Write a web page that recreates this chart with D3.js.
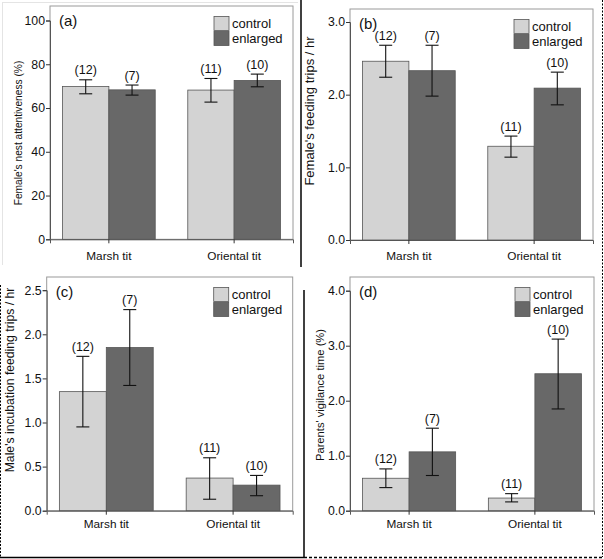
<!DOCTYPE html>
<html>
<head>
<meta charset="utf-8">
<script src="https://cdn.jsdelivr.net/npm/d3@7"></script>
<style>
html,body{margin:0;padding:0;background:#fff;}
svg{display:block;font-family:"Liberation Sans",Arial,sans-serif;}
</style>
</head>
<body>
<svg id="chart" width="604" height="559"></svg>
<script>
// ---------- data ----------
const groups = ["Marsh tit", "Oriental tit"];
const series = ["control", "enlarged"];
const panelLetters = ["(a)", "(b)", "(c)", "(d)"];
const yTitles = [
  "Female's nest attentiveness (%)",
  "Female's feeding trips / hr",
  "Male's incubation feeding trips / hr",
  "Parents' vigilance time (%)"
];
// sample sizes [group][series]
const sampleSizes = [[12, 7], [11, 10]];

// panel (a)
const ticksA = [0, 20, 40, 60, 80, 100];
const meanA = [[69.8, 68.3], [68.2, 72.6]];
const lowA  = [[66.5, 65.9], [62.7, 69.7]];
const highA = [[72.9, 70.5], [73.5, 75.5]];
// panel (b)
const ticksB = [0, 1, 2, 3];
const meanB = [[2.46, 2.33], [1.29, 2.09]];
const lowB  = [[2.24, 1.98], [1.14, 1.86]];
const highB = [[2.68, 2.68], [1.43, 2.31]];
// panel (c)
const ticksC = [0, 0.5, 1, 1.5, 2, 2.5];
const meanC = [[1.35, 1.85], [0.37, 0.29]];
const lowC  = [[0.95, 1.42], [0.13, 0.17]];
const highC = [[1.75, 2.28], [0.60, 0.40]];
// panel (d)
const ticksD = [0, 1, 2, 3, 4];
const meanD = [[0.59, 1.07], [0.23, 2.49]];
const lowD  = [[0.42, 0.64], [0.16, 1.85]];
const highD = [[0.76, 1.50], [0.31, 3.12]];

// ---------- layout ----------
const colors = {control: "#d3d3d3", enlarged: "#686868"};
const panels = [
  {ticks: ticksA, mean: meanA, low: lowA, high: highA, fmt: d3.format("d"),
   left: 50, top: 6, right: 293, bottom: 239.3, tickTopY: 20.5,
   titleX: 18, titleY: 133, titleSize: 10.2, catDy: 20.5},
  {ticks: ticksB, mean: meanB, low: lowB, high: highB, fmt: d3.format(".1f"),
   left: 350, top: 9, right: 593, bottom: 240, tickTopY: 22,
   titleX: 309.5, titleY: 111, titleSize: 13, catDy: 20},
  {ticks: ticksC, mean: meanC, low: lowC, high: highC, fmt: d3.format(".1f"),
   left: 46.7, top: 277, right: 292.7, bottom: 510.7, tickTopY: 290.2,
   titleX: 10, titleY: 380, titleSize: 12.2, catDy: 17.6},
  {ticks: ticksD, mean: meanD, low: lowD, high: highD, fmt: d3.format(".1f"),
   left: 350, top: 277, right: 594, bottom: 510.7, tickTopY: 290.7,
   titleX: 319.5, titleY: 395, titleSize: 11.2, catDy: 17.6}
];

const svg = d3.select("#chart");
svg.append("rect").attr("width", 604).attr("height", 559).attr("fill", "#fff");

// decorative panel borders (as in the source image)
const borders = svg.append("g").attr("fill", "none");
borders.append("line").attr("x1", 2).attr("y1", 2.5).attr("x2", 298).attr("y2", 2.5).attr("stroke", "#e4e4e4");
borders.append("line").attr("x1", 2.5).attr("y1", 2).attr("x2", 2.5).attr("y2", 265).attr("stroke", "#e4e4e4");
borders.append("line").attr("x1", 301).attr("y1", 0).attr("x2", 301).attr("y2", 267).attr("stroke", "#000").attr("stroke-width", 1.5);
borders.append("line").attr("x1", 602.5).attr("y1", 0).attr("x2", 602.5).attr("y2", 290).attr("stroke", "#000").attr("stroke-dasharray", "2,1.5");
borders.append("line").attr("x1", 0.5).attr("y1", 285).attr("x2", 0.5).attr("y2", 557).attr("stroke", "#000").attr("stroke-dasharray", "2,1.5");
borders.append("line").attr("x1", 304).attr("y1", 290).attr("x2", 304).attr("y2", 557).attr("stroke", "#000").attr("stroke-width", 1.5);
borders.append("line").attr("x1", 602.5).attr("y1", 290).attr("x2", 602.5).attr("y2", 557).attr("stroke", "#000").attr("stroke-dasharray", "2,1.5");
borders.append("line").attr("x1", 0).attr("y1", 557.5).attr("x2", 304).attr("y2", 557.5).attr("stroke", "#000").attr("stroke-width", 1.5);
borders.append("line").attr("x1", 304).attr("y1", 557.5).attr("x2", 604).attr("y2", 557.5).attr("stroke", "#000").attr("stroke-width", 1.5).attr("stroke-dasharray", "3,2");

panels.forEach((p, i) => {
  const g = svg.append("g");
  const tickMax = p.ticks[p.ticks.length - 1];
  const y = d3.scaleLinear().domain([0, tickMax]).range([p.bottom, p.tickTopY]);
  const x0 = d3.scaleBand().domain(groups).range([p.left, p.right]).paddingInner(0.26).paddingOuter(0.1);
  const x1 = d3.scaleBand().domain(series).range([0, x0.bandwidth()]).padding(0);

  // frame
  g.append("rect").attr("x", p.left).attr("y", p.top)
    .attr("width", p.right - p.left).attr("height", p.bottom - p.top)
    .attr("fill", "#fff").attr("stroke", "#9a9a9a").attr("stroke-width", 1);

  // bars
  groups.forEach((grp, gi) => {
    series.forEach((s, si) => {
      const bx = x0(grp) + x1(s);
      const v = p.mean[gi][si];
      g.append("rect").attr("x", bx).attr("y", y(v))
        .attr("width", x1.bandwidth()).attr("height", y(0) - y(v))
        .attr("fill", colors[s]).attr("stroke", "#555").attr("stroke-width", 0.8);
    });
  });

  // error bars and n labels
  groups.forEach((grp, gi) => {
    series.forEach((s, si) => {
      const cx = x0(grp) + x1(s) + x1.bandwidth() / 2;
      const lo = y(p.low[gi][si]), hi = y(p.high[gi][si]);
      const cap = 6.5;
      const eg = g.append("g").attr("stroke", "#111").attr("stroke-width", 1.1);
      eg.append("line").attr("x1", cx).attr("x2", cx).attr("y1", lo).attr("y2", hi);
      eg.append("line").attr("x1", cx - cap).attr("x2", cx + cap).attr("y1", hi).attr("y2", hi);
      eg.append("line").attr("x1", cx - cap).attr("x2", cx + cap).attr("y1", lo).attr("y2", lo);
      g.append("text").attr("x", cx).attr("y", hi - 5.5)
        .attr("text-anchor", "middle").attr("font-size", 12.5).attr("fill", "#111")
        .text("(" + sampleSizes[gi][si] + ")");
    });
  });

  // y axis
  const ya = g.append("g").attr("transform", `translate(${p.left},0)`)
    .call(d3.axisLeft(y).tickValues(p.ticks).tickFormat(p.fmt).tickSize(4).tickPadding(1));
  ya.select(".domain").attr("stroke", "#555");
  ya.selectAll(".tick line").attr("stroke", "#333");
  ya.selectAll(".tick text").attr("font-size", 12.3).attr("fill", "#111")
    .attr("font-family", "Liberation Sans, Arial, sans-serif");

  // x axis
  const xa = g.append("g").attr("transform", `translate(0,${p.bottom})`)
    .call(d3.axisBottom(x0).tickSize(4).tickPadding(3));
  xa.select(".domain").attr("stroke", "#555");
  xa.selectAll(".tick line").attr("stroke", "#333");
  xa.selectAll(".tick text").remove();
  groups.forEach(grp => {
    g.append("text").attr("x", x0(grp) + x0.bandwidth() / 2).attr("y", p.bottom + p.catDy)
      .attr("text-anchor", "middle").attr("font-size", 11.8).attr("fill", "#111").text(grp);
  });

  // y title
  g.append("text").attr("transform", `translate(${p.titleX},${p.titleY}) rotate(-90)`)
    .attr("text-anchor", "middle").attr("dominant-baseline", "central")
    .attr("font-size", p.titleSize).attr("fill", "#111").text(yTitles[i]);

  // panel letter
  g.append("text").attr("x", p.left + 9).attr("y", p.top + 20)
    .attr("font-size", 15).attr("fill", "#111").text(panelLetters[i]);

  // legend
  const lg = g.append("g").attr("transform", `translate(${p.right - 79},${p.top + 10.5})`);
  series.forEach((s, si) => {
    lg.append("rect").attr("x", 0).attr("y", si * 15).attr("width", 15).attr("height", 14)
      .attr("fill", colors[s]).attr("stroke", "#555").attr("stroke-width", 0.8);
    lg.append("text").attr("x", 18).attr("y", si * 15 + 11.5)
      .attr("font-size", 13).attr("fill", "#111").text(s);
  });
});
</script>
</body>
</html>
